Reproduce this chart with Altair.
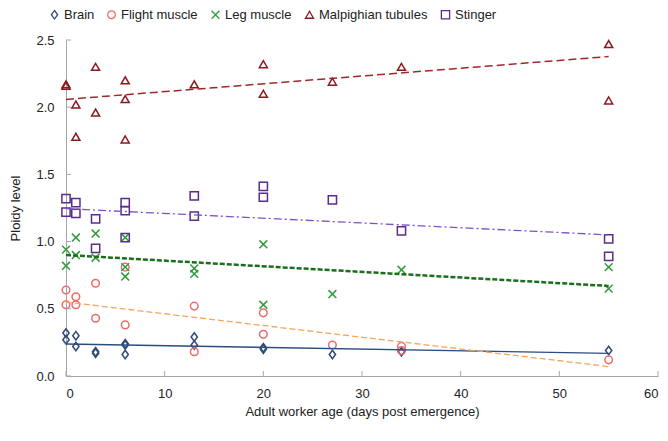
import altair as alt
import pandas as pd

# ---- data ----
series_names = ["Brain", "Flight muscle", "Leg muscle", "Malpighian tubules", "Stinger"]

brain_x = [0, 0, 1, 1, 3, 3, 6, 6, 6, 13, 13, 20, 20, 27, 34, 55]
brain_y = [0.32, 0.27, 0.30, 0.22, 0.18, 0.17, 0.24, 0.23, 0.16, 0.29, 0.23, 0.21, 0.20, 0.16, 0.18, 0.19]

flight_x = [0, 0, 1, 1, 3, 3, 6, 6, 13, 13, 20, 20, 27, 34, 34, 55]
flight_y = [0.64, 0.53, 0.59, 0.53, 0.69, 0.43, 0.81, 0.38, 0.52, 0.18, 0.47, 0.31, 0.23, 0.22, 0.19, 0.12]

leg_x = [0, 0, 1, 1, 3, 3, 6, 6, 6, 13, 13, 20, 20, 27, 34, 55, 55]
leg_y = [0.94, 0.82, 1.03, 0.90, 1.06, 0.88, 1.03, 0.81, 0.74, 0.80, 0.76, 0.98, 0.53, 0.61, 0.79, 0.81, 0.65]

malp_x = [0, 0, 1, 1, 3, 3, 6, 6, 6, 13, 20, 20, 27, 34, 55, 55]
malp_y = [2.16, 2.17, 2.02, 1.78, 2.30, 1.96, 2.20, 2.06, 1.76, 2.17, 2.32, 2.10, 2.19, 2.30, 2.47, 2.05]

sting_x = [0, 0, 1, 1, 3, 3, 6, 6, 6, 13, 13, 20, 20, 27, 34, 55, 55]
sting_y = [1.32, 1.22, 1.29, 1.21, 1.17, 0.95, 1.29, 1.23, 1.03, 1.34, 1.19, 1.41, 1.33, 1.31, 1.08, 1.02, 0.89]

# linear trend lines (start at x=0, end at x=55)
trend_x = [0, 55]
trend_brain = [0.238, 0.169]
trend_flight = [0.55, 0.07]
trend_leg = [0.90, 0.67]
trend_malp = [2.058, 2.377]
trend_sting = [1.245, 1.05]

x_ticks = [0, 10, 20, 30, 40, 50, 60]
y_ticks = [0.0, 0.5, 1.0, 1.5, 2.0, 2.5]

marker_colors = ["#2F4B7C", "#F06A6A", "#2E9B3A", "#8B1A1F", "#5A2D8C"]
marker_shapes = ["M0,-1.15L0.85,0L0,1.15L-0.85,0Z", "circle", "M-1,-1L1,1M-1,1L1,-1",
                 "triangle-up", "square"]
marker_sizes = [55, 68, 85, 90, 100]

# ---- tables ----
rows = []
for name, xs, ys in zip(series_names,
                        [brain_x, flight_x, leg_x, malp_x, sting_x],
                        [brain_y, flight_y, leg_y, malp_y, sting_y]):
    for xv, yv in zip(xs, ys):
        rows.append({"series": name, "age": xv, "ploidy": yv})
points = pd.DataFrame(rows)

def trend_df(vals):
    return pd.DataFrame({"age": trend_x, "ploidy": vals})

FONT = "Liberation Sans"
W, H = 592, 336

xscale = alt.Scale(domain=[0, 60], nice=False, zero=False)
yscale = alt.Scale(domain=[0, 2.5], nice=False)

leg = alt.Legend(title=None, orient="none", direction="horizontal", legendX=-18, legendY=-32)

pts = alt.Chart(points).mark_point(filled=False, strokeWidth=1.5, opacity=1).encode(
    x=alt.X("age:Q", scale=xscale,
            axis=alt.Axis(title="Adult worker age (days post emergence)", values=x_ticks,
                          ticks=False, labelPadding=11, titlePadding=5)),
    y=alt.Y("ploidy:Q", scale=yscale,
            axis=alt.Axis(title="Ploidy level", values=y_ticks, format=".1f",
                          ticks=False, labelPadding=12, titlePadding=13)),
    color=alt.Color("series:N", scale=alt.Scale(domain=series_names, range=marker_colors),
                    legend=leg),
    shape=alt.Shape("series:N", scale=alt.Scale(domain=series_names, range=marker_shapes),
                    legend=leg),
    size=alt.Size("series:N", scale=alt.Scale(domain=series_names, range=marker_sizes), legend=None),
)

def tline(vals, color, dash, width):
    m = dict(color=color, strokeWidth=width)
    if dash:
        m["strokeDash"] = dash
    return alt.Chart(trend_df(vals)).mark_line(**m).encode(
        x=alt.X("age:Q", scale=xscale), y=alt.Y("ploidy:Q", scale=yscale))

lines = [
    tline(trend_brain, "#2B4C7E", None, 1.3),
    tline(trend_flight, "#F5A55A", [6, 3], 1.3),
    tline(trend_leg, "#1B6E1B", [5, 2], 2.5),
    tline(trend_malp, "#A0282D", [8, 4], 1.5),
    tline(trend_sting, "#7B52C8", [8, 3, 2, 3], 1.3),
]

xt = alt.Chart(pd.DataFrame({"t": x_ticks})).mark_rule(color="#A6A6A6", strokeWidth=1).encode(
    x=alt.X("t:Q", scale=xscale), y=alt.value(H), y2=alt.value(H - 5))
yt = alt.Chart(pd.DataFrame({"t": y_ticks})).mark_rule(color="#A6A6A6", strokeWidth=1).encode(
    y=alt.Y("t:Q", scale=yscale), x=alt.value(0), x2=alt.value(5))

chart = alt.layer(pts, *lines, xt, yt).properties(
    width=W, height=H,
    autosize=alt.AutoSizeParams(type="none"),
    padding={"left": 58, "top": 32, "right": 2, "bottom": 50},
).configure_view(stroke=None).configure_axis(
    grid=False, domainColor="#A6A6A6", domainWidth=1,
    labelFont=FONT, labelFontSize=13, labelColor="#222222",
    titleFont=FONT, titleFontSize=13, titleColor="#222222", titleFontWeight="normal",
).configure_legend(
    labelFont=FONT, labelFontSize=13, labelColor="#222222",
    symbolStrokeWidth=1.3, symbolSize=60, labelOffset=3, columnPadding=10, padding=0,
)

chart.save("out.html", embed_options={"renderer": "svg", "actions": False})
